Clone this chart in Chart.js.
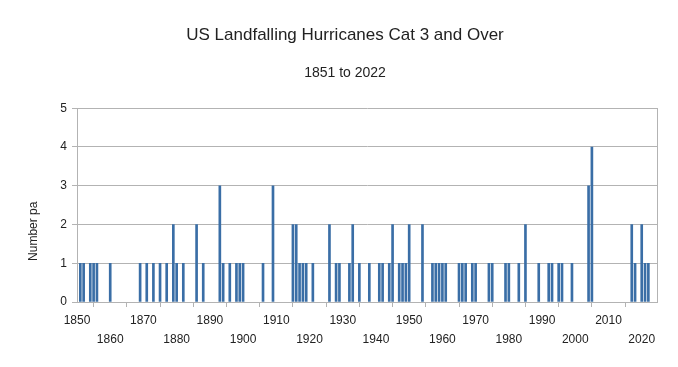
<!DOCTYPE html>
<html>
<head>
<meta charset="utf-8">
<script src="https://cdn.jsdelivr.net/npm/chart.js@4"></script>
<style>
  html, body { margin: 0; padding: 0; background: #fff; }
  #wrap { width: 678px; height: 367px; position: relative; }
</style>
</head>
<body>
<div id="wrap"><canvas id="chart"></canvas></div>
<script>
// Data: years with a Cat 3+ US landfall and how many in that year
const years = [
  1851, 1852, 1854, 1855, 1856, 1860, 1869, 1871, 1873, 1875, 1877, 1879, 1880, 1882,
  1886, 1888, 1893, 1894, 1896, 1898, 1899, 1900, 1906, 1909, 1915, 1916, 1917, 1918,
  1919, 1921, 1926, 1928, 1929, 1932, 1933, 1935, 1938, 1941, 1942, 1944, 1945, 1947,
  1948, 1949, 1950, 1954, 1957, 1958, 1959, 1960, 1961, 1965, 1966, 1967, 1969,
  1970, 1974, 1975, 1979, 1980, 1983, 1985, 1989, 1992, 1993, 1995, 1996, 1999, 2004,
  2005, 2017, 2018, 2020, 2021, 2022
];
const counts = [
  1, 1, 1, 1, 1, 1, 1, 1, 1, 1, 1, 2, 1, 1,
  2, 1, 3, 1, 1, 1, 1, 1, 1, 3, 2, 2, 1, 1,
  1, 1, 2, 1, 1, 1, 2, 1, 1, 1, 1, 1, 2, 1,
  1, 1, 2, 2, 1, 1, 1, 1, 1, 1, 1, 1, 1,
  1, 1, 1, 1, 1, 1, 2, 1, 1, 1, 1, 1, 1, 3,
  4, 2, 1, 2, 1, 1
];
const yTicks = [0, 1, 2, 3, 4, 5];
const titleText = 'US Landfalling Hurricanes Cat 3 and Over';
const subtitleText = '1851 to 2022';
const yTitleText = 'Number pa';

const FONT = "'Liberation Sans', Arial, sans-serif";
const GRID = '#b3b3b3';

// y axis title sits a bit below the middle in the original, so draw it ourselves
const yTitlePlugin = {
  id: 'yTitle',
  afterDraw(chart) {
    const { ctx, chartArea } = chart;
    ctx.save();
    ctx.translate(34, chartArea.top + chartArea.height * 0.635);
    ctx.rotate(-Math.PI / 2);
    ctx.font = '12px ' + FONT;
    ctx.fillStyle = '#222';
    ctx.textAlign = 'center';
    ctx.textBaseline = 'middle';
    ctx.fillText(yTitleText, 0, 0);
    ctx.restore();
  }
};

const ctx = document.getElementById('chart').getContext('2d');
new Chart(ctx, {
  type: 'bar',
  data: {
    datasets: [{
      label: 'Hurricanes',
      data: years.map((y, i) => ({ x: y, y: counts[i] })),
      backgroundColor: '#3a6ea6',
      borderWidth: 0,
      barThickness: 2
    }]
  },
  options: {
    responsive: true,
    maintainAspectRatio: false,
    animation: false,
    layout: { padding: { left: 12, right: 0, top: 0, bottom: 0 } },
    plugins: {
      legend: { display: false },
      tooltip: { enabled: false },
      title: {
        display: true,
        text: titleText,
        color: '#222',
        font: { family: FONT, size: 17, weight: 'normal', lineHeight: 1.2 },
        padding: { top: 25, bottom: 0 }
      },
      subtitle: {
        display: true,
        text: subtitleText,
        color: '#222',
        font: { family: FONT, size: 14, weight: 'normal', lineHeight: 1.2 },
        padding: { top: 19, bottom: 27 }
      }
    },
    scales: {
      x: {
        type: 'linear',
        min: 1850,
        max: 2024.6,
        offset: false,
        grid: { drawOnChartArea: false, color: GRID, tickLength: 5 },
        border: { color: GRID },
        ticks: {
          stepSize: 10,
          includeBounds: false,
          autoSkip: false,
          maxRotation: 0,
          padding: 4,
          color: '#222',
          font: { family: FONT, size: 12, lineHeight: 1.6 },
          callback: (v) => ((v - 1850) / 10) % 2 === 0 ? String(v) : ['', String(v)]
        },
        afterFit: (s) => { s.height = 65; }
      },
      y: {
        min: 0,
        max: 5,
        afterBuildTicks: (s) => { s.ticks = yTicks.map(v => ({ value: v })); },
        grid: { color: GRID, tickLength: 5 },
        border: { color: GRID },
        ticks: { padding: 5, color: '#222', font: { family: FONT, size: 12 } },
        afterFit: (s) => { s.width = 65; }
      },
      y2: {
        position: 'right',
        min: 0,
        max: 5,
        grid: { display: false },
        border: { display: true, color: GRID },
        ticks: { display: false },
        afterFit: (s) => { s.width = 21; }
      }
    }
  },
  plugins: [yTitlePlugin]
});
</script>
</body>
</html>
